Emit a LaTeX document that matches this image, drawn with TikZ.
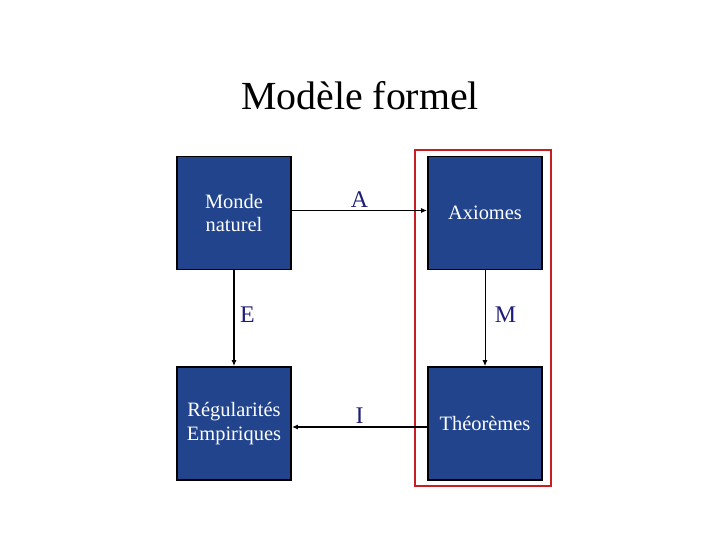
\documentclass[tikz,border=0pt]{standalone}
\usepackage{fontspec}
\setmainfont{Liberation Serif}
\usetikzlibrary{positioning,calc,arrows.meta}
\definecolor{boxblue}{RGB}{33,68,140}
\definecolor{labelblue}{RGB}{30,30,120}
\definecolor{framered}{RGB}{200,30,35}

\begin{document}
\begin{tikzpicture}[x=1bp,y=1bp]

\tikzstyle{block}=[draw=black,line width=1.8bp,fill=boxblue,text=white,minimum width=114bp,minimum height=113bp,inner sep=0pt,align=center,font=\fontsize{20.5}{24}\selectfont]
\tikzstyle{lbl}=[text=labelblue,font=\fontsize{24}{26}\selectfont]
\tikzstyle{link}=[-{Latex[length=6bp,width=5bp]},line width=1.8bp]

\useasboundingbox (0,0) rectangle (720,540);

\node (title) at (360,444) {\fontsize{40}{44}\selectfont Modèle formel};

\node (monde) [block] at (234,327) {Monde\\naturel};
\node (axiomes) [block] at (485,327) {Axiomes};
\node (regul) [block] at (234,116.5) {Régularités\\Empiriques};
\node (theo) [block] at (485,116.5) {Théorèmes};

% formal part
\draw [framered,line width=1.8bp] (415,390) rectangle (551,54);

\draw [link] ([yshift=2.5bp]monde.east) -- ([yshift=2.5bp]axiomes.west) node (a) [lbl,midway,above,yshift=-1bp] {A};
\draw [link] (monde.south) -- (regul.north) node (e) [lbl,midway,right,xshift=2bp,yshift=4bp] {E};
\draw [link,line width=1bp] (axiomes.south) -- (theo.north) node (m) [lbl,midway,right,xshift=6bp,yshift=4bp] {M};
\draw [link] ([yshift=-3.5bp]theo.west) -- ([yshift=-3.5bp]regul.east) node (i) [lbl,midway,above,yshift=-1bp] {I};

\end{tikzpicture}
\end{document}
